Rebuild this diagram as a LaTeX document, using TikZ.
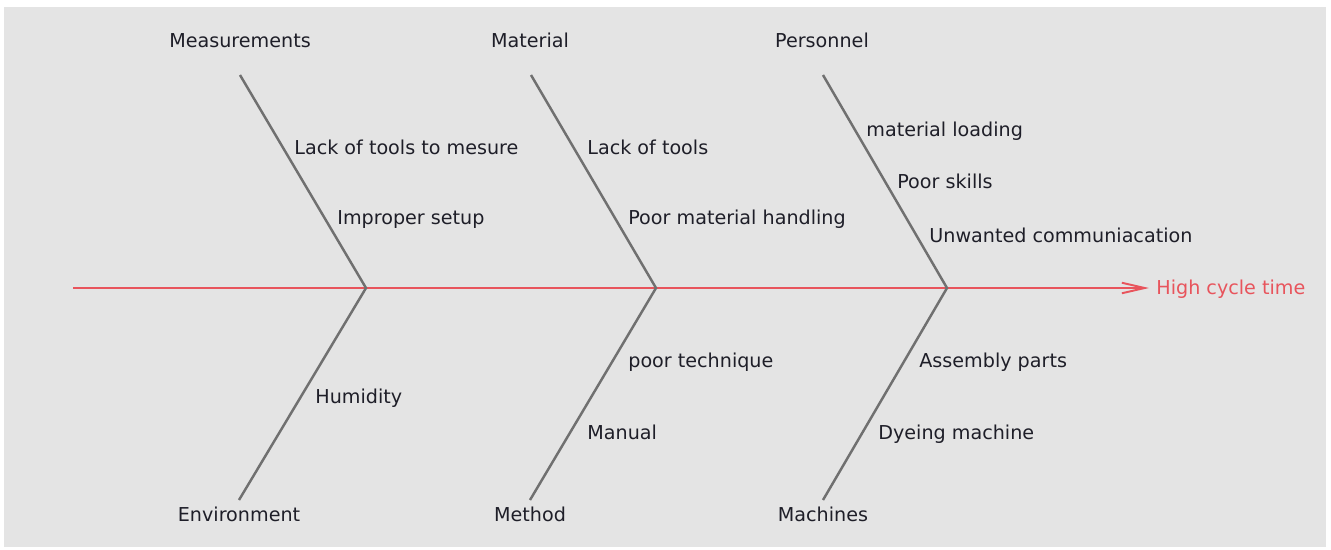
\documentclass[tikz,border=0pt]{standalone}
\usepackage{fontspec}
\setmainfont{DejaVu Sans}
\usetikzlibrary{arrows.meta}

\definecolor{fishbg}{HTML}{E4E4E4}
\definecolor{spinered}{HTML}{E8545C}
\definecolor{bonegrey}{HTML}{707070}
\definecolor{causetext}{HTML}{1E1E28}

\begin{document}
\begin{tikzpicture}[x=0.02cm,y=-0.02cm,
                    font=\fontsize{10.9}{12}\selectfont,
                    every node/.style={text=causetext,inner sep=0pt,
                                       text height=0.73em,text depth=0.2em},
                    cause/.style={anchor=west,yshift=-1.6pt},
                    head/.style={anchor=center,yshift=-1.6pt},
                    bone/.style={draw=bonegrey,line width=1.4pt},
                    spine/.style={draw=spinered,line width=1.1pt,
                                  -{Straight Barb[length=13pt,width=6pt]}}]

  \useasboundingbox (0,0) rectangle (1331,549);
  \fill[white] (0,0) rectangle (1331,549);
  \fill[fishbg] (4,7) rectangle (1326,547);

  % spine
  \coordinate (tail) at (73,288);
  \coordinate (tip) at (1149,288);
  \node[text=spinered,anchor=west,inner sep=4pt,yshift=-1.2pt] (effect) at (tip) {High cycle time};
  \draw[spine] (tail) -- (tip);

  % bones
  \coordinate (j1) at (366,288);
  \coordinate (j2) at (656,288);
  \coordinate (j3) at (947,288);
  \coordinate (t1) at (240,75);
  \coordinate (t2) at (531,75);
  \coordinate (t3) at (823,75);
  \coordinate (b1) at (239,500);
  \coordinate (b2) at (530,500);
  \coordinate (b3) at (823,500);
  \draw[bone] (t1) -- (j1) -- (b1);
  \draw[bone] (t2) -- (j2) -- (b2);
  \draw[bone] (t3) -- (j3) -- (b3);

  % categories
  \node[head] (meas) at (240,40)  {Measurements};
  \node[head] (matl) at (530,40)  {Material};
  \node[head] (pers) at (822,40)  {Personnel};
  \node[head] (env)  at (239,514) {Environment};
  \node[head] (meth) at (530,514) {Method};
  \node[head] (mach) at (823,514) {Machines};

  % causes
  \node[cause] (tools)    at (294,147) {Lack of tools to mesure};
  \node[cause] (setup)    at (337,217) {Improper setup};
  \node[cause] (lack)     at (587,147) {Lack of tools};
  \node[cause] (handling) at (628,217) {Poor material handling};
  \node[cause] (loading)  at (866,129) {material loading};
  \node[cause] (skills)   at (897,181) {Poor skills};
  \node[cause] (talk)     at (929,235) {Unwanted communiacation};
  \node[cause] (humid)    at (315,396) {Humidity};
  \node[cause] (technique) at (628,360) {poor technique};
  \node[cause] (manual)   at (587,432) {Manual};
  \node[cause] (parts)    at (919,360) {Assembly parts};
  \node[cause] (dyeing)   at (878,432) {Dyeing machine};

\end{tikzpicture}
\end{document}
